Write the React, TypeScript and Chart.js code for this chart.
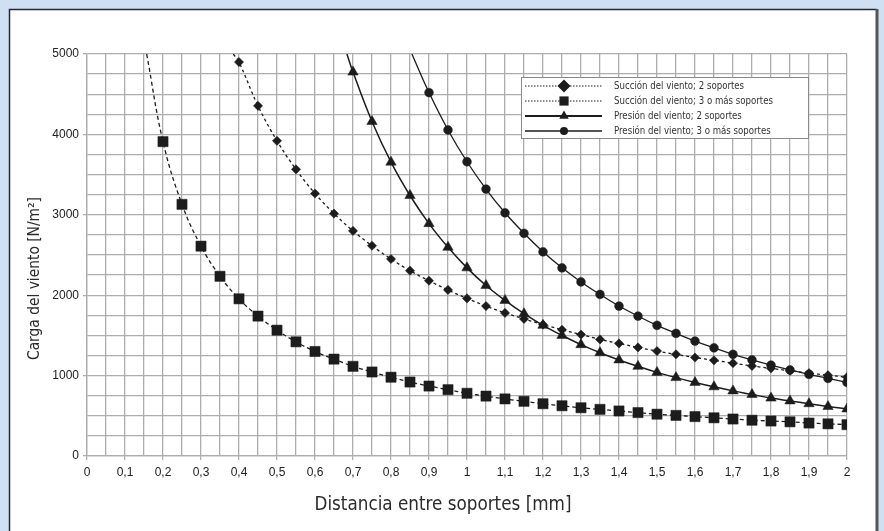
import React, { useEffect, useRef } from 'react';
import { Chart, registerables } from 'chart.js';
Chart.register(...registerables);

// Distance between supports [mm] at which markers are placed
const xSuction2 = [0.4, 0.45, 0.5, 0.55, 0.6, 0.65, 0.7, 0.75, 0.8, 0.85, 0.9, 0.95, 1.0, 1.05, 1.1, 1.15, 1.2, 1.25, 1.3, 1.35, 1.4, 1.45, 1.5, 1.55, 1.6, 1.65, 1.7, 1.75, 1.8, 1.85, 1.9, 1.95, 2.0];
const ySuction2 = [4900, 4355, 3920, 3565, 3265, 3015, 2800, 2615, 2450, 2305, 2180, 2065, 1960, 1865, 1780, 1705, 1635, 1570, 1510, 1450, 1400, 1350, 1305, 1265, 1225, 1190, 1155, 1120, 1090, 1060, 1030, 1005, 980];

const xSuction3 = [0.2, 0.25, 0.3, 0.35, 0.4, 0.45, 0.5, 0.55, 0.6, 0.65, 0.7, 0.75, 0.8, 0.85, 0.9, 0.95, 1.0, 1.05, 1.1, 1.15, 1.2, 1.25, 1.3, 1.35, 1.4, 1.45, 1.5, 1.55, 1.6, 1.65, 1.7, 1.75, 1.8, 1.85, 1.9, 1.95, 2.0];
const ySuction3 = [3910, 3130, 2610, 2235, 1955, 1740, 1565, 1420, 1300, 1205, 1115, 1045, 980, 920, 870, 825, 780, 745, 710, 680, 650, 625, 600, 580, 560, 540, 520, 505, 490, 475, 460, 445, 435, 425, 410, 400, 390];

const xPressure2 = [0.7, 0.75, 0.8, 0.85, 0.9, 0.95, 1.0, 1.05, 1.1, 1.15, 1.2, 1.25, 1.3, 1.35, 1.4, 1.45, 1.5, 1.55, 1.6, 1.65, 1.7, 1.75, 1.8, 1.85, 1.9, 1.95, 2.0];
const yPressure2 = [4775, 4160, 3655, 3240, 2890, 2595, 2340, 2120, 1935, 1770, 1625, 1500, 1385, 1285, 1195, 1115, 1040, 975, 915, 860, 810, 765, 720, 685, 650, 615, 585];

const xPressure3 = [0.9, 0.95, 1.0, 1.05, 1.1, 1.15, 1.2, 1.25, 1.3, 1.35, 1.4, 1.45, 1.5, 1.55, 1.6, 1.65, 1.7, 1.75, 1.8, 1.85, 1.9, 1.95, 2.0];
const yPressure3 = [4520, 4055, 3660, 3320, 3025, 2770, 2540, 2340, 2165, 2010, 1865, 1740, 1625, 1525, 1430, 1345, 1265, 1195, 1130, 1070, 1015, 965, 915];

// Where each curve enters the plot at its top edge (no marker there)
const curveStartX = [0.385, 0.157, 0.684, 0.855];
const curveStartY = [5000, 5000, 5000, 5000];

const seriesNames = [
  'Succión del viento; 2 soportes',
  'Succión del viento; 3 o más soportes',
  'Presión del viento; 2 soportes',
  'Presión del viento; 3 o más soportes',
];

const xTitle = 'Distancia entre soportes [mm]';
const yTitle = 'Carga del viento [N/m²]';

const INK = '#1c1c1c';
const GRID = '#adadad';
const NARROW = '"Liberation Sans Narrow", "DejaVu Sans Condensed", "Liberation Sans", Arial, sans-serif';

function build(xs: number[], ys: number[], i: number) {
  const pts = [{ x: curveStartX[i], y: curveStartY[i] }];
  xs.forEach((x, k) => pts.push({ x, y: ys[k] }));
  return pts;
}

function drawMarker(ctx: CanvasRenderingContext2D, style: string, x: number, y: number, r: number) {
  ctx.beginPath();
  if (style === 'rectRot') {
    ctx.moveTo(x - r, y); ctx.lineTo(x, y - r); ctx.lineTo(x + r, y); ctx.lineTo(x, y + r); ctx.closePath();
  } else if (style === 'rect') {
    const s = r * Math.SQRT1_2;
    ctx.rect(x - s, y - s, 2 * s, 2 * s);
  } else if (style === 'triangle') {
    const a = Math.PI / 2;
    for (let k = 0; k < 3; k++) {
      const ang = -a + (k * 2 * Math.PI) / 3;
      const px = x + Math.cos(ang) * r, py = y + Math.sin(ang) * r;
      if (k === 0) ctx.moveTo(px, py); else ctx.lineTo(px, py);
    }
    ctx.closePath();
  } else {
    ctx.arc(x, y, r, 0, Math.PI * 2);
  }
  ctx.fillStyle = INK;
  ctx.fill();
}

function fitText(ctx: CanvasRenderingContext2D, text: string, x: number, y: number, font: string, targetW: number) {
  ctx.save();
  ctx.font = font;
  const w = ctx.measureText(text).width;
  ctx.translate(x, y);
  ctx.scale(targetW / w, 1);
  ctx.textAlign = 'center';
  ctx.textBaseline = 'alphabetic';
  ctx.fillText(text, 0, 0);
  ctx.restore();
}

const framePlugin = {
  id: 'frame',
  beforeDraw(chart: any) {
    const ctx = chart.ctx as CanvasRenderingContext2D;
    ctx.save();
    ctx.fillStyle = '#cfe0f2';
    ctx.fillRect(0, 0, chart.width, chart.height);
    ctx.fillStyle = '#ffffff';
    ctx.fillRect(9, 9, 868, 530);
    ctx.strokeStyle = '#2a2a2a';
    ctx.lineWidth = 1.5;
    ctx.beginPath();
    ctx.moveTo(9.5, 540); ctx.lineTo(9.5, 9.5); ctx.lineTo(877, 9.5);
    ctx.stroke();
    ctx.strokeStyle = '#555';
    ctx.lineWidth = 3;
    ctx.beginPath();
    ctx.moveTo(877, 9); ctx.lineTo(877, 540);
    ctx.stroke();
    ctx.restore();
  },
  afterDraw(chart: any) {
    const ctx = chart.ctx as CanvasRenderingContext2D;
    ctx.save();
    ctx.fillStyle = '#2b2b2b';
    // axis titles
    fitText(ctx, xTitle, 443, 510, '20px ' + NARROW, 257);
    ctx.save();
    ctx.translate(39, 278.5);
    ctx.rotate(-Math.PI / 2);
    fitText(ctx, yTitle, 0, 0, '16px ' + NARROW, 163);
    ctx.restore();

    // legend
    const bx = 521.5, by = 77.5, bw = 287, bh = 61;
    ctx.fillStyle = '#fff';
    ctx.fillRect(bx, by, bw, bh);
    ctx.strokeStyle = '#8a8a8a';
    ctx.lineWidth = 1;
    ctx.strokeRect(bx, by, bw, bh);
    const rows = [86, 101, 116, 131];
    const styles = ['rectRot', 'rect', 'triangle', 'circle'];
    const radii = [6.5, 6.5, 5.5, 4];
    const dashes = [[1.5, 1.5], [1.5, 1.5], [], []];
    const widths = [1.2, 1.2, 2.2, 1.6];
    ctx.font = '10px ' + NARROW;
    const longest = ctx.measureText(seriesNames[1]).width;
    const sc = 159 / longest;
    rows.forEach((ry, i) => {
      ctx.save();
      ctx.strokeStyle = INK;
      ctx.lineWidth = widths[i];
      ctx.setLineDash(dashes[i]);
      ctx.beginPath();
      ctx.moveTo(525, ry); ctx.lineTo(602, ry);
      ctx.stroke();
      ctx.restore();
      drawMarker(ctx, styles[i], 564, ry, radii[i]);
      ctx.save();
      ctx.fillStyle = '#333';
      ctx.font = '10px ' + NARROW;
      ctx.textBaseline = 'middle';
      ctx.translate(614, ry + 0.5);
      ctx.scale(sc, 1);
      ctx.fillText(seriesNames[i], 0, 0);
      ctx.restore();
    });
    ctx.restore();
  },
};

function fmtX(v: number) {
  const t = Math.round(v * 10);
  if (Math.abs(v * 10 - t) > 1e-6) return '';
  const s = (t / 10).toString();
  return s.replace('.', ',');
}

export default function App() {
  const ref = useRef<HTMLCanvasElement>(null);
  useEffect(() => {
    if (!ref.current) return;
    const common = { pointBorderColor: INK, pointBackgroundColor: INK, borderColor: INK, fill: false, tension: 0.4 };
    const chart = new Chart(ref.current, {
      type: 'line',
      data: {
        datasets: [
          { ...common, label: seriesNames[0], data: build(xSuction2, ySuction2, 0), borderWidth: 1.3, borderDash: [3, 3], pointStyle: 'rectRot', pointRadius: (c: any) => (c.dataIndex === 0 ? 0 : 4.6), pointBorderWidth: 0.5 },
          { ...common, label: seriesNames[1], data: build(xSuction3, ySuction3, 1), borderWidth: 1.3, borderDash: [4, 3], pointStyle: 'rect', pointRadius: (c: any) => (c.dataIndex === 0 ? 0 : 7.2), pointBorderWidth: 0.5 },
          { ...common, label: seriesNames[2], data: build(xPressure2, yPressure2, 2), borderWidth: 1.5, pointStyle: 'triangle', pointRadius: (c: any) => (c.dataIndex === 0 ? 0 : 6), pointBorderWidth: 0.5 },
          { ...common, label: seriesNames[3], data: build(xPressure3, yPressure3, 3), borderWidth: 1.3, pointStyle: 'circle', pointRadius: (c: any) => (c.dataIndex === 0 ? 0 : 4.4), pointBorderWidth: 0.5 },
        ] as any,
      },
      options: {
        responsive: false,
        animation: false,
        events: [],
        layout: { padding: { left: 0, top: 54, right: 37, bottom: 0 } },
        plugins: { legend: { display: false }, tooltip: { enabled: false } },
        scales: {
          x: {
            type: 'linear',
            min: 0,
            max: 2,
            afterFit: (s: any) => { s.height = 75; },
            ticks: { stepSize: 0.05, autoSkip: false, maxRotation: 0, padding: 5, color: '#222', font: { family: '"Liberation Sans", Arial, sans-serif', size: 12 }, callback: (v: any) => fmtX(Number(v)) },
            grid: { color: GRID, lineWidth: 1.3, tickLength: 4, tickColor: (c: any) => (fmtX(c.tick ? c.tick.value : 0) === '' ? 'rgba(0,0,0,0)' : GRID) },
            border: { color: GRID, width: 1.3 },
          },
          y: {
            type: 'linear',
            min: 0,
            max: 5000,
            afterFit: (s: any) => { s.width = 87; },
            ticks: { stepSize: 250, autoSkip: false, padding: 4, color: '#222', font: { family: '"Liberation Sans", Arial, sans-serif', size: 12 }, callback: (v: any) => (Number(v) % 1000 === 0 ? String(v) : '') },
            grid: { color: GRID, lineWidth: 1.3, tickLength: 4, tickColor: (c: any) => ((c.tick && c.tick.value % 1000 === 0) ? GRID : 'rgba(0,0,0,0)') },
            border: { color: GRID, width: 1.3 },
          },
        },
      } as any,
      plugins: [framePlugin],
    });
    return () => chart.destroy();
  }, []);
  return (
    <div style={{ position: 'fixed', left: 0, top: 0, width: 884, height: 531 }}>
      <canvas ref={ref} width={884} height={531} style={{ display: 'block', width: 884, height: 531 }} />
    </div>
  );
}
